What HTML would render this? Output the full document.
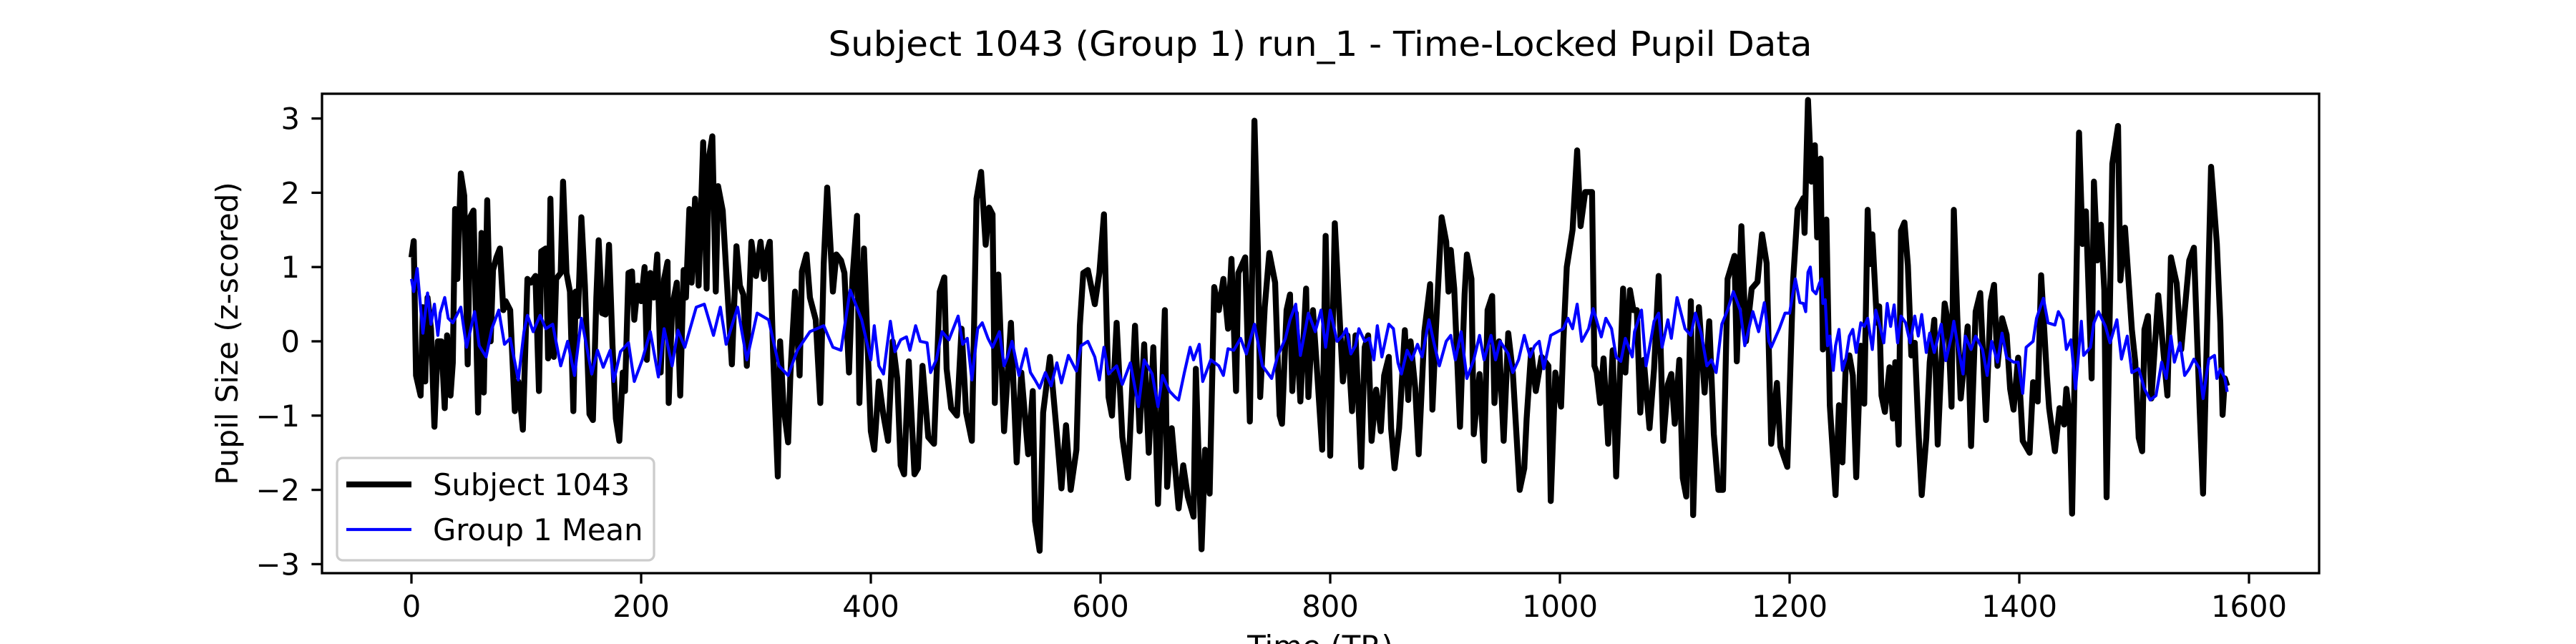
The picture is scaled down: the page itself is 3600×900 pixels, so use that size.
<!DOCTYPE html>
<html><head><meta charset="utf-8"><style>
html,body{margin:0;padding:0;background:#fff}
svg{display:block;font-family:"DejaVu Sans","Liberation Sans",sans-serif}
</style></head><body>
<svg id="chart" width="3600" height="900" viewBox="0 0 3600 900" xmlns="http://www.w3.org/2000/svg">
<rect x="0" y="0" width="3600" height="900" fill="#fff"/>
<text x="1845" y="78" font-size="48" text-anchor="middle" textLength="1375" lengthAdjust="spacingAndGlyphs">Subject 1043 (Group 1) run_1 - Time-Locked Pupil Data</text>
<g id="plot"></g>
<text x="1845" y="918" font-size="42" text-anchor="middle">Time (TR)</text>
<text transform="translate(332,466) rotate(-90)" font-size="42" text-anchor="middle">Pupil Size (z-scored)</text>
</svg>
<script>
const xTicks = [0,200,400,600,800,1000,1200,1400,1600];
const yTicks = [-3,-2,-1,0,1,2,3];
const yTickLabels = ["\u22123","\u22122","\u22121","0","1","2","3"];
const seriesNames = ["Subject 1043","Group 1 Mean"];
const subjectPoints = [[0,1.13],[2,1.35],[4,-0.46],[8,-0.73],[10,0.46],[12,-0.54],[14,0.59],[17,0.17],[20,-1.15],[23,0.0],[26,0.0],[29,-0.9],[31,0.08],[34,-0.73],[36,-0.29],[38,1.78],[40,0.84],[43,2.26],[46,1.96],[49,-0.31],[51,1.67],[54,1.76],[58,-0.96],[61,1.46],[63,-0.69],[66,1.9],[69,0.0],[71,0.96],[74,1.13],[77,1.25],[80,0.42],[82,0.54],[86,0.42],[90,-0.94],[93,-0.54],[97,-1.19],[101,0.84],[104,0.79],[108,0.88],[111,-0.67],[113,1.21],[117,1.25],[119,-0.23],[121,1.92],[124,-0.21],[126,0.84],[130,0.92],[132,2.15],[135,0.92],[138,0.67],[141,-0.94],[143,0.67],[145,0.34],[148,1.67],[151,0.75],[155,-0.98],[158,-1.06],[161,0.59],[163,1.36],[166,0.38],[169,0.36],[172,1.3],[175,-0.04],[178,-1.04],[181,-1.34],[184,-0.42],[186,-0.67],[189,0.92],[192,0.94],[194,0.29],[197,0.75],[200,0.54],[203,1.0],[205,-0.25],[208,0.92],[211,0.59],[214,1.17],[217,-0.42],[220,0.84],[223,1.07],[224,-0.83],[227,0.46],[231,0.79],[234,-0.73],[237,0.96],[239,0.59],[242,1.78],[244,0.79],[247,1.92],[250,0.75],[254,2.68],[257,0.71],[259,2.47],[262,2.76],[265,0.67],[267,2.09],[271,1.76],[274,0.96],[279,-0.31],[283,1.28],[286,0.75],[289,0.63],[292,-0.33],[296,1.34],[300,0.88],[304,1.34],[307,0.84],[309,1.17],[312,1.34],[315,-0.21],[319,-1.82],[321,0.0],[324,-0.88],[328,-1.36],[330,-0.42],[334,0.67],[338,-0.46],[340,0.94],[344,1.17],[347,0.59],[352,0.29],[356,-0.83],[359,1.05],[362,2.07],[365,1.25],[367,0.67],[370,1.17],[374,1.09],[377,0.92],[381,-0.42],[384,0.84],[388,1.69],[390,-0.83],[394,1.25],[400,-1.21],
[403,-1.46],[407,-0.54],[411,-1.0],[415,-1.34],[419,0.0],[423,-0.5],[426,-1.67],[429,-1.79],[433,-0.27],[438,-1.79],[441,-1.71],[445,-0.33],[450,-1.29],[455,-1.38],[460,0.67],[464,0.86],[466,-0.37],[470,-0.9],[475,-1.0],[479,0.17],[483,-0.96],[488,-1.34],[492,1.92],[496,2.28],[500,1.3],[503,1.8],[506,1.71],[508,-0.83],[511,0.9],[516,-1.21],[522,0.25],[527,-1.63],[531,-0.42],[537,-1.52],[541,-0.67],[543,-2.42],[547,-2.82],[550,-0.96],[556,-0.21],[562,-1.25],[566,-1.98],[570,-1.13],[574,-2.0],[579,-1.46],[582,0.21],[585,0.92],[589,0.96],[595,0.5],[599,0.92],[603,1.71],[607,-0.75],[610,-1.0],[614,0.25],[619,-1.29],[624,-1.84],[630,0.21],[634,-1.21],[638,-0.04],[642,-1.5],[646,-0.08],[650,-2.19],[656,0.42],[658,-1.96],[662,-1.17],[668,-2.25],[672,-1.67],[676,-2.09],[681,-2.36],[683,-0.37],[688,-2.8],[691,-1.46],[695,-2.05],[699,0.73],[703,0.42],[707,0.84],[711,0.17],[714,1.11],[718,-0.67],[720,0.92],[726,1.13],[730,-1.08],[734,2.97],[737,1.25],[739,-0.75],[743,0.46],[747,1.19],[752,0.79],[756,-1.0],[758,-1.11],[762,0.42],[765,0.63],[767,-0.67],[770,0.38],[774,-0.81],[779,0.71],[781,-0.75],[785,0.42],[789,-0.5],[793,-1.46],[796,1.42],[800,-1.54],[804,1.59],[811,-0.54],
[815,0.08],[819,-0.94],[822,0.08],[827,-1.69],[830,-0.08],[833,0.08],[836,-1.34],[840,-0.65],[844,-1.21],[847,-0.46],[851,-0.21],[853,-1.17],[856,-1.71],[860,-1.17],[865,0.15],[868,-0.79],[870,0.0],[874,-0.63],[877,-1.52],[882,0.13],[887,0.77],[889,-0.92],[892,0.17],[897,1.67],[901,1.34],[903,0.67],[905,1.23],[908,0.71],[913,-1.15],[917,0.63],[919,1.17],[923,0.84],[925,-1.25],[930,-0.44],[934,-1.61],[937,0.42],[941,0.61],[943,-0.83],[947,0.0],[951,-1.34],[955,0.11],[959,-0.42],[962,-1.21],[965,-2.0],[969,-1.71],[971,-1.04],[975,-0.12],[979,-0.67],[984,-0.21],[990,-0.33],[992,-2.15],[996,-0.42],[1001,-0.88],[1003,0.0],[1006,1.0],[1011,1.5],[1015,2.57],[1018,1.55],[1022,2.01],[1028,2.01],[1030,-0.33],[1032,-0.42],[1035,-0.83],[1038,-0.23],[1042,-1.38],[1046,-0.12],[1049,-1.82],[1055,0.71],[1057,-0.42],[1061,0.69],[1064,0.42],[1067,0.42],[1070,-0.96],[1073,-0.25],[1078,-1.17],[1082,-0.37],[1086,0.88],[1090,-1.34],[1094,-0.58],[1097,-0.44],[1100,-1.11],[1104,-0.25],[1107,-1.84],[1110,-2.09],[1114,0.54],[1116,-2.34],[1121,0.46],[1126,-0.69],[1130,0.27],[1134,-1.25],[1138,-2.0],[1142,-2.0],[1146,0.84],[1152,1.15],[1154,-0.27],[1158,1.55],[1162,0.0],[1167,0.71],[1172,0.8],[1176,1.44],[1180,1.05],[1184,-1.38],[1189,-0.56],[1192,-1.42],[1198,-1.69],[1203,0.8],[1207,1.78],
[1212,1.93],[1213,1.46],[1216,3.25],[1219,2.15],[1222,2.64],[1224,1.4],[1227,2.46],[1229,-0.11],[1232,1.64],[1235,-0.86],[1240,-2.07],[1243,-0.86],[1246,-1.63],[1249,-0.28],[1252,-0.19],[1255,-0.46],[1258,-1.83],[1262,-0.06],[1265,-0.84],[1268,1.77],[1270,1.04],[1272,1.44],[1276,0.25],[1278,0.47],[1280,-0.73],[1283,-0.95],[1287,-0.35],[1290,-1.04],[1292,-0.28],[1295,-1.39],[1297,1.49],[1300,1.6],[1303,1.02],[1306,-0.19],[1309,-0.02],[1312,-1.15],[1315,-2.07],[1319,-1.3],[1322,-0.28],[1326,0.29],[1329,-1.39],[1332,-0.33],[1335,0.51],[1338,0.25],[1341,-0.88],[1343,1.77],[1346,0.34],[1349,-0.77],[1355,0.2],[1358,-1.41],[1362,0.4],[1366,0.65],[1371,-1.06],[1375,0.53],[1378,0.76],[1381,-0.33],[1385,0.31],[1389,0.09],[1392,-0.64],[1395,-0.92],[1399,-0.22],[1403,-1.34],[1409,-1.5],[1412,-0.55],[1416,-0.81],[1419,0.89],[1424,-0.46],[1426,-0.9],[1431,-1.48],[1435,-0.9],[1439,-1.12],[1441,-0.64],[1444,-1.04],[1446,-2.32],[1452,2.81],[1455,1.31],[1458,1.75],[1463,-0.5],[1465,2.15],[1468,1.09],[1471,1.57],[1474,0.69],[1476,-2.1],[1481,2.39],[1486,2.9],[1488,0.82],[1492,1.53],[1498,0.16],[1501,-0.28],[1504,-1.3],[1507,-1.48],[1509,0.16],[1512,0.34],[1515,-0.77],[1521,0.62],[1529,-0.73],[1532,1.13],[1537,0.78],[1541,-0.11],[1548,1.09],[1552,1.26],[1557,-0.9],[1560,-2.05],[1567,2.35],[1572,1.31],[1575,0.25],[1577,-0.99],[1579,-0.5],[1581,-0.6]];
const meanPoints = [[0,0.84],[2,0.67],[5,0.98],[10,0.11],[14,0.65],[17,0.23],[20,0.5],[23,0.08],[25,0.38],[29,0.59],[32,0.31],[36,0.25],[43,0.46],[48,-0.08],[55,0.4],[59,-0.06],[65,-0.21],[70,0.17],[76,0.42],[81,-0.04],[86,0.04],[93,-0.52],[98,0.13],[101,0.35],[106,0.13],[112,0.35],[117,0.17],[123,0.23],[130,-0.33],[136,0.0],[142,-0.46],[148,0.31],[157,-0.44],[162,-0.12],[167,-0.35],[173,-0.12],[176,-0.54],[182,-0.14],[189,-0.02],[194,-0.54],[201,-0.25],[208,0.13],[215,-0.48],[220,0.17],[227,-0.33],[232,0.15],[238,-0.08],[248,0.46],[255,0.5],[263,0.08],[269,0.46],[274,-0.04],[284,0.46],[292,-0.25],[301,0.38],[311,0.29],[320,-0.33],[328,-0.46],[336,-0.12],[347,0.13],[359,0.21],[367,-0.08],[374,-0.12],[382,0.69],[392,0.29],[400,-0.25],
[403,0.21],[407,-0.33],[411,-0.44],[414,-0.08],[417,0.27],[421,-0.14],[426,0.02],[431,0.06],[434,-0.12],[439,0.21],[443,0.0],[449,-0.02],[452,-0.42],[457,-0.25],[462,0.13],[468,0.02],[476,0.34],[480,-0.04],[484,0.04],[488,-0.52],[493,0.17],[497,0.25],[502,0.04],[506,-0.08],[512,0.13],[516,-0.33],[519,-0.21],[523,0.0],[529,-0.46],[535,-0.1],[539,-0.42],[543,-0.52],[547,-0.63],[552,-0.42],[557,-0.6],[562,-0.29],[566,-0.56],[572,-0.19],[579,-0.4],[583,-0.06],[589,0.0],[595,-0.21],[599,-0.52],[603,-0.08],[607,-0.44],[614,-0.33],[619,-0.58],[626,-0.29],[633,-0.88],[638,-0.25],[645,-0.44],[650,-0.88],[654,-0.46],[660,-0.67],[665,-0.75],[668,-0.79],[673,-0.42],[678,-0.08],[681,-0.25],[686,-0.04],[689,-0.54],[696,-0.25],[703,-0.33],[707,-0.46],[711,-0.1],[716,-0.12],[722,0.04],[727,-0.17],[734,0.23],[741,-0.33],[749,-0.5],[754,-0.21],[761,0.04],[765,0.29],[770,0.5],[774,-0.19],[781,0.38],[787,0.13],[792,0.42],[796,-0.08],[800,0.42],[806,0.0],[811,0.08],
[814,0.17],[818,-0.17],[822,-0.06],[825,0.17],[830,0.0],[834,0.04],[838,-0.25],[841,0.21],[845,-0.21],[851,0.23],[855,0.17],[859,-0.29],[862,-0.44],[867,-0.12],[871,-0.25],[876,-0.04],[880,-0.21],[886,0.29],[890,0.0],[895,-0.33],[901,0.0],[905,0.08],[909,-0.25],[914,0.13],[919,-0.5],[925,-0.25],[930,0.08],[934,-0.25],[940,0.08],[944,-0.25],[948,0.0],[955,-0.17],[959,-0.42],[964,-0.25],[969,0.08],[974,-0.21],[978,-0.06],[982,0.0],[986,-0.37],[992,0.08],[998,0.13],[1003,0.17],[1007,0.31],[1011,0.17],[1015,0.5],[1019,0.0],[1025,0.17],[1029,0.44],[1036,0.06],[1040,0.31],[1045,0.17],[1049,-0.21],[1053,-0.27],[1057,0.04],[1063,-0.21],[1065,0.13],[1071,0.42],[1075,-0.33],[1079,0.0],[1082,0.27],[1086,0.38],[1089,-0.08],[1094,0.29],[1097,0.04],[1102,0.59],[1109,0.17],[1114,0.08],[1118,0.38],[1123,0.11],[1128,-0.33],[1132,-0.25],[1136,-0.42],[1141,0.23],[1146,0.42],[1151,0.67],[1157,0.42],[1161,-0.06],[1168,0.4],[1173,0.13],[1178,0.52],[1182,0.0],[1184,-0.08],[1191,0.17],[1196,0.38],[1200,0.38],[1205,0.84],[1209,0.52],
[1212,0.51],[1214,0.4],[1216,0.93],[1218,1.0],[1220,0.69],[1223,0.64],[1226,0.78],[1228,0.84],[1229,0.51],[1231,0.56],[1233,-0.06],[1235,0.07],[1238,-0.39],[1240,-0.06],[1243,0.16],[1246,-0.39],[1249,-0.24],[1252,0.07],[1255,0.16],[1258,-0.15],[1262,0.25],[1265,0.2],[1268,0.31],[1272,-0.11],[1275,0.42],[1278,0.25],[1282,-0.02],[1285,0.51],[1288,0.2],[1291,0.49],[1294,-0.02],[1297,0.34],[1301,0.25],[1305,-0.02],[1309,0.34],[1312,0.07],[1315,0.36],[1319,-0.15],[1322,0.11],[1326,-0.15],[1332,0.23],[1336,-0.26],[1341,0.07],[1343,0.27],[1346,-0.02],[1351,-0.44],[1353,0.07],[1358,-0.11],[1362,0.07],[1368,-0.11],[1372,-0.46],[1376,0.0],[1381,-0.28],[1385,0.11],[1389,-0.22],[1395,-0.28],[1399,-0.28],[1403,-0.7],[1406,-0.08],[1412,0.0],[1415,0.31],[1421,0.58],[1425,0.25],[1431,0.22],[1434,0.4],[1438,0.29],[1441,-0.11],[1445,0.02],[1449,-0.64],[1454,0.27],[1456,-0.19],[1462,-0.08],[1465,0.25],[1469,0.4],[1475,0.2],[1479,-0.02],[1485,0.29],[1489,-0.24],[1494,0.07],[1498,-0.42],[1504,-0.37],[1509,-0.64],[1514,-0.79],[1519,-0.73],[1524,-0.28],[1528,-0.5],[1532,0.07],[1535,-0.28],[1540,-0.02],[1544,-0.46],[1548,-0.37],[1552,-0.24],[1557,-0.37],[1560,-0.77],[1565,-0.24],[1570,-0.19],[1572,-0.5],[1575,-0.37],[1579,-0.5],[1581,-0.68]];

const NS = "http://www.w3.org/2000/svg";
const L = 450, R = 3241, T = 131, B = 801;
function xs(t){ return 575 + (t - 0) * (3143 - 575) / 1600; }
function ys(v){ return 477 - v * 103.8; }
const plot = document.getElementById('plot');
function mk(tag, attrs, parent){
  const e = document.createElementNS(NS, tag);
  for (const k in attrs) e.setAttribute(k, attrs[k]);
  (parent || plot).appendChild(e);
  return e;
}
// clip
const defs = mk('defs', {});
const cp = mk('clipPath', {id:'clip'}, defs);
mk('rect', {x:L, y:T, width:R-L, height:B-T}, cp);

function drawLine(points, color, width, name){
  const d = points.map((p,i)=>(i?'L':'M') + xs(p[0]).toFixed(1) + ' ' + ys(p[1]).toFixed(1)).join(' ');
  const path = mk('path', {d:d, fill:'none', stroke:color, 'stroke-width':width, 'stroke-linejoin':'round', 'clip-path':'url(#clip)'});
  
  
}
drawLine(subjectPoints, '#000000', 8.3, 'subject-1043-line');
drawLine(meanPoints, '#0000ff', 4.2, 'group-1-mean-line');

// spines
const frame = mk('rect', {x:L, y:T, width:R-L, height:B-T, fill:'none', stroke:'#000', 'stroke-width':3.3});



// x ticks
xTicks.forEach(t => {
  const x = xs(t);
  const tk = mk('line', {x1:x, x2:x, y1:B, y2:B+14.6, stroke:'#000', 'stroke-width':3.3});
  
  
  const lb = mk('text', {x:x, y:862, 'font-size':41.7, 'text-anchor':'middle'});
  lb.textContent = String(t);
  
  
});
// y ticks
yTicks.forEach((v,i) => {
  const y = ys(v);
  const tk = mk('line', {x1:L-14.6, x2:L, y1:y, y2:y, stroke:'#000', 'stroke-width':3.3});
  
  
  const lb = mk('text', {x:419, y:y+15, 'font-size':41.7, 'text-anchor':'end'});
  lb.textContent = yTickLabels[i];
  
  
});

// legend
const lg = mk('g', {});


mk('rect', {x:471, y:640, width:443, height:143, rx:8, fill:'#fff', 'fill-opacity':0.8, stroke:'#cccccc', 'stroke-width':3.3}, lg);
const legColors = ['#000000','#0000ff'];
const legWidths = [8.3, 4.2];
const legY = [677, 740];
seriesNames.forEach((n,i) => {
  const ent = mk('g', {}, lg);
  
  
  mk('line', {x1:484, x2:575, y1:legY[i], y2:legY[i], stroke:legColors[i], 'stroke-width':legWidths[i]}, ent);
  const t = mk('text', {x:605, y:legY[i]+15, 'font-size':41.7}, ent);
  t.textContent = n;
});
</script>
</body></html>
